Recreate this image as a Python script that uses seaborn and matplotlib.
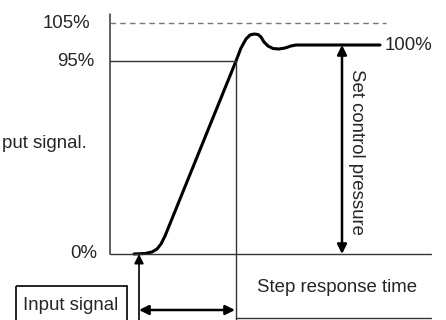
import numpy as np
import pandas as pd
import matplotlib as mpl
from matplotlib import pyplot as plt
from matplotlib.patches import Rectangle
import seaborn as sns

# schematic step response (x = time, y = screen units, 0% at 254, 100% at 45)
resp_time = [134, 145, 152, 157, 161, 165, 236, 241, 246, 250, 254, 258, 261, 264, 268,
             273, 279, 285, 291, 296, 380]
resp_level = [254, 253.5, 252, 249, 244, 236, 61, 48, 39, 35, 34, 34.5, 37, 42, 46,
              48.5, 49, 48, 46, 45, 45]

level_labels = ["105%", "95%", "0%"]
final_label = "100%"

sns.set_style("white")  # style should be set before plot
plt.rcParams['font.family'] = ['Liberation Sans', 'DejaVu Sans']

fig = plt.figure(figsize=(4.46, 3.2), dpi=100)
ax = fig.add_axes([0, 0, 1, 1])
ax.set_xlim(0, 446)
ax.set_ylim(320, 0)
ax.axis('off')

dframe = pd.DataFrame({'t': resp_time, 'p': resp_level})
sns.lineplot(ax=ax, data=dframe, x='t', y='p', sort=False, color='black', lw=2.2)

gray = '#333333'
# y axis and reference levels
ax.plot([110, 110], [14, 254], color=gray, lw=1.1)
ax.plot([110, 386], [23, 23], color='#777777', lw=1, ls=(0, (4, 3)))
ax.plot([110, 236], [61, 61], color=gray, lw=1)
ax.plot([110, 431], [254, 254], color=gray, lw=1)
ax.plot([236, 236], [61, 320], color=gray, lw=1)
ax.plot([236, 431], [318, 318], color=gray, lw=1)

fs = 13.4
for lab, y, xr in zip(level_labels, [23, 61, 254], [90, 94, 97]):
    ax.text(xr, y, lab, ha='right', va='center', fontsize=fs)
ax.text(385, 45, final_label, ha='left', va='center', fontsize=fs)

# set control pressure arrow
ax.annotate('', xy=(342, 45), xytext=(342, 254),
            arrowprops=dict(arrowstyle='<|-|>', color='black', lw=1.8,
                            mutation_scale=14, shrinkA=0, shrinkB=0))
ax.text(356, 152, 'Set control pressure', rotation=270, ha='center', va='center', fontsize=fs)

# input signal arrow
ax.annotate('', xy=(139, 254), xytext=(139, 322),
            arrowprops=dict(arrowstyle='-|>', color='black', lw=1.2,
                            mutation_scale=14, shrinkA=0, shrinkB=0))
ax.annotate('', xy=(139, 310), xytext=(235, 310),
            arrowprops=dict(arrowstyle='<|-|>', color='black', lw=1.8,
                            mutation_scale=14, shrinkA=0, shrinkB=0))

ax.text(337, 287, 'Step response time', ha='center', va='center', fontsize=fs)
ax.add_patch(Rectangle((16, 286), 111, 40, fill=False, ec='black', lw=1.2))
ax.text(71, 306, 'Input signal', ha='center', va='center', fontsize=fs)
ax.text(2, 143, 'put signal.', ha='left', va='center', fontsize=fs)

fig.savefig('out.png', dpi=100)
